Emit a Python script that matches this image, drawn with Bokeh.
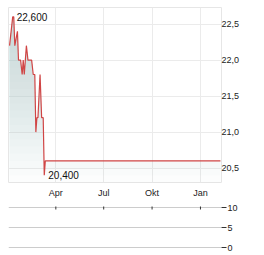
import numpy as np
import pandas as pd
from bokeh.plotting import figure
from bokeh.layouts import column
from bokeh.models import FixedTicker, CustomJSTickFormatter, Range1d, ColumnDataSource, Label
from bokeh.embed import file_html
from bokeh.resources import INLINE

# ---- data ----
dates = ["2024-01-04", "2024-01-10", "2024-01-12", "2024-01-14", "2024-01-19", "2024-01-21",
         "2024-01-25", "2024-01-28", "2024-01-30", "2024-02-01", "2024-02-05", "2024-02-08",
         "2024-02-15", "2024-02-18", "2024-02-21", "2024-02-23", "2024-02-25", "2024-02-27",
         "2024-03-02", "2024-03-05", "2024-03-08", "2024-03-10", "2024-03-12", "2025-02-08"]
prices = [22.2, 22.6, 22.6, 22.2, 22.4, 22.0,
          22.0, 21.8, 22.0, 21.8, 22.2, 22.0,
          22.0, 21.8, 21.8, 21.0, 21.2, 21.2,
          21.8, 21.2, 21.2, 20.4, 20.6, 20.6]
y_ticks = [20.5, 21.0, 21.5, 22.0, 22.5]
x_tick_dates = ["2024-04-01", "2024-07-01", "2024-10-01", "2025-01-01"]
x_tick_labels = ["Apr", "Jul", "Okt", "Jan"]
vol_ticks = [0, 5, 10]

FONT = "Liberation Sans"
LINE = "#d04545"

def ms(d):
    return pd.Timestamp(d).value // 10**6

x = pd.to_datetime(dates)
xt = [ms(d) for d in x_tick_dates]
x_start, x_end = ms("2024-01-02"), ms("2025-02-10")
y_lo, y_hi = 20.3, 22.73

vals = np.array(prices)
src = ColumnDataSource(dict(x=x, y=vals))

p = figure(width=264, height=200, x_axis_type="datetime", output_backend="svg",
           toolbar_location=None, x_range=Range1d(x_start, x_end),
           y_range=Range1d(y_lo, y_hi), y_axis_location="right",
           min_border_left=8, min_border_right=43, min_border_top=7, min_border_bottom=15)

# gradient-like fill under the line (stacked translucent bands)
levels = np.arange(y_lo, 22.61, 0.1)
for L in levels:
    p.varea(x=x, y1=np.minimum(vals, L), y2=vals, fill_color="#b0bfcc", fill_alpha=0.035)

p.line(x="x", y="y", source=src, color=LINE, line_width=1.2)

imax = int(np.argmax(vals))
imin = int(np.argmin(vals))
fmt = lambda v: f"{v:.3f}".replace(".", ",")
p.add_layout(Label(x=ms(dates[imax]), y=vals[imax], text=fmt(vals[imax]), x_offset=4,
                   text_baseline="middle", text_font_size="10px", text_font=FONT, text_color="#111"))
p.add_layout(Label(x=ms(dates[imin]), y=vals[imin], text=fmt(vals[imin]), x_offset=4,
                   text_baseline="middle", text_font_size="10px", text_font=FONT, text_color="#111"))

xtick = FixedTicker(ticks=xt)
p.xaxis.ticker = xtick
p.xaxis.formatter = CustomJSTickFormatter(args=dict(tks=xt, lbls=x_tick_labels),
    code="const i = tks.indexOf(tick); return i >= 0 ? lbls[i] : '';")
p.yaxis.ticker = FixedTicker(ticks=y_ticks)
p.yaxis.formatter = CustomJSTickFormatter(code="return tick.toFixed(1).replace('.', ',');")
for ax in (p.xaxis, p.yaxis):
    ax.axis_line_color = None
    ax.major_tick_line_color = None
    ax.major_tick_in = 0
    ax.major_tick_out = 0
    ax.minor_tick_line_color = None
    ax.minor_tick_out = 0
    ax.major_label_text_font = FONT
    ax.major_label_text_font_size = "9px"
    ax.major_label_text_color = "#222"
p.xaxis.major_label_standoff = 5
p.yaxis.major_label_standoff = 0
p.xgrid.ticker = xtick
p.ygrid.ticker = FixedTicker(ticks=y_ticks)
p.grid.grid_line_color = "#ebebeb"
p.outline_line_color = "#e6e6e6"

# ---- volume panel ----
p2 = figure(width=264, height=55, x_axis_type="datetime", output_backend="svg",
            toolbar_location=None, x_range=p.x_range, y_range=Range1d(-0.25, 10.25),
            x_axis_location=None, y_axis_location="right",
            min_border_left=8, min_border_right=43, min_border_top=6, min_border_bottom=7)
p2.outline_line_color = None
p2.xgrid.grid_line_color = None
p2.ygrid.ticker = FixedTicker(ticks=vol_ticks)
p2.ygrid.grid_line_color = "#cccccc"
# small date tick marks sitting on the top volume gridline
tick_src = ColumnDataSource(dict(x=xt, y0=[max(vol_ticks)] * len(xt)))
p2.scatter(x="x", y="y0", source=tick_src, marker="dash", angle=np.pi / 2, size=4,
           color="#333333", line_width=1)
p2.yaxis.ticker = FixedTicker(ticks=vol_ticks)
p2.yaxis.axis_line_color = None
p2.yaxis.major_tick_in = 0
p2.yaxis.major_tick_out = 5
p2.yaxis.major_tick_line_color = "#333"
p2.yaxis.minor_tick_line_color = None
p2.yaxis.minor_tick_out = 0
p2.yaxis.major_label_standoff = 1
p2.yaxis.major_label_text_font = FONT
p2.yaxis.major_label_text_font_size = "9px"
p2.yaxis.major_label_text_color = "#222"

layout = column(p, p2, spacing=0)
open("out.html", "w").write(file_html(layout, INLINE))
